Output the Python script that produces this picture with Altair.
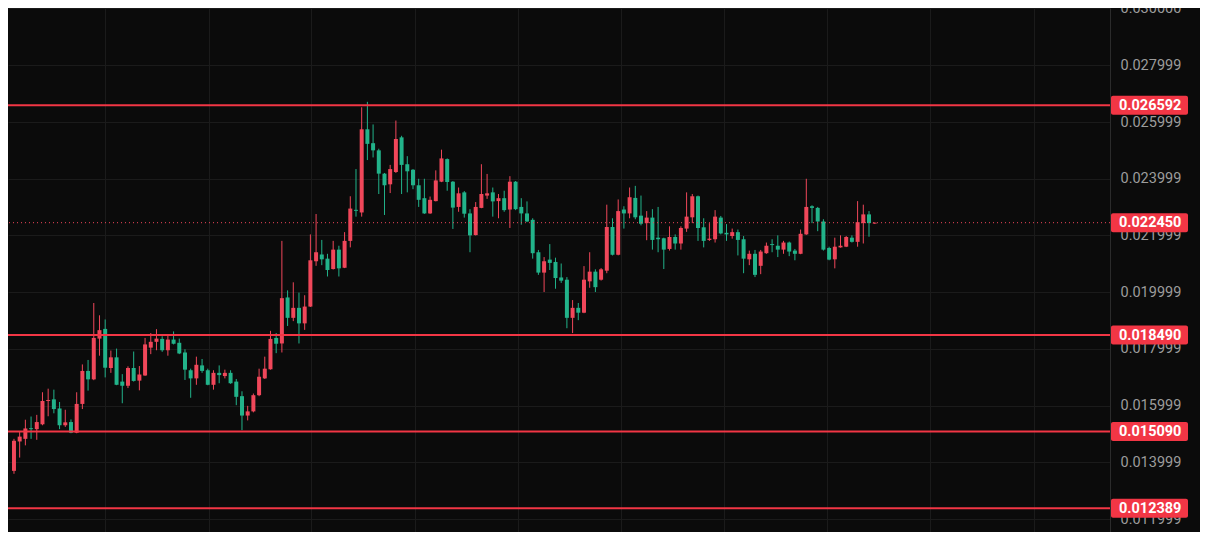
import altair as alt
import pandas as pd

# ---- candle data (price values) ----
opens = [0.013704, 0.014740, 0.014832, 0.015208, 0.015174, 0.015345, 0.016166, 0.016224, 0.015903, 0.015311,
         0.015424, 0.015048, 0.016063, 0.017226, 0.016929, 0.018365, 0.018707, 0.017329, 0.017705, 0.016850,
         0.016703, 0.017329, 0.016884, 0.017065, 0.018047, 0.018252, 0.018355, 0.017955, 0.018331, 0.018218,
         0.017876, 0.017250, 0.016963, 0.017421, 0.017250, 0.016737, 0.017158, 0.017045, 0.017158, 0.016850,
         0.016337, 0.015653, 0.015800, 0.016371, 0.016963, 0.017284, 0.018389, 0.018194, 0.019815, 0.019097,
         0.019449, 0.018902, 0.019494, 0.021091, 0.021330, 0.021183, 0.020817, 0.021501, 0.020862, 0.021809,
         0.022903, 0.022811, 0.025742, 0.025253, 0.025000, 0.024179, 0.023803, 0.024237, 0.025458, 0.024511,
         0.024316, 0.023769, 0.023314, 0.022777, 0.023211, 0.023895, 0.024692, 0.023895, 0.023006, 0.023519,
         0.022777, 0.022014, 0.022972, 0.023406, 0.023519, 0.023211, 0.023314, 0.022914, 0.023895, 0.023006,
         0.022777, 0.022551, 0.021409, 0.020691, 0.021149, 0.021067, 0.020520, 0.020441, 0.019097, 0.019449,
         0.019278, 0.020383, 0.020725, 0.020441, 0.020759, 0.022298, 0.021320, 0.022914, 0.022777, 0.023324,
         0.022698, 0.022435, 0.022630, 0.021922, 0.021901, 0.021525, 0.021946, 0.021717, 0.022243, 0.022640,
         0.023382, 0.022288, 0.021843, 0.021867, 0.022630, 0.022093, 0.021980, 0.022117, 0.021867, 0.021159,
         0.021354, 0.020930, 0.021375, 0.021696, 0.021638, 0.021501, 0.021751, 0.021467, 0.021354, 0.022038,
         0.023030, 0.022972, 0.022493, 0.021559, 0.021159, 0.021580, 0.021604, 0.021922, 0.021775, 0.022435,
         0.022743, 0.022420]
highs = [0.014832, 0.015082, 0.015506, 0.015619, 0.015677, 0.016474, 0.016600, 0.016566, 0.016132, 0.015858,
         0.015516, 0.016474, 0.017455, 0.017613, 0.019620, 0.019186, 0.019039, 0.017944, 0.018013, 0.017113,
         0.017387, 0.017910, 0.017397, 0.018389, 0.018560, 0.018697, 0.018447, 0.018457, 0.018618, 0.018365,
         0.017989, 0.017305, 0.017729, 0.017647, 0.017305, 0.017250, 0.017421, 0.017271, 0.017250, 0.016942,
         0.016508, 0.015995, 0.016429, 0.017305, 0.017729, 0.018639, 0.018560, 0.021809, 0.020065, 0.020349,
         0.019986, 0.019894, 0.022038, 0.022756, 0.021843, 0.021354, 0.021809, 0.021638, 0.022117, 0.023382,
         0.024340, 0.026518, 0.026710, 0.025913, 0.025058, 0.024203, 0.024487, 0.026050, 0.025513, 0.024795,
         0.024340, 0.023998, 0.023998, 0.023372, 0.024295, 0.025024, 0.024716, 0.023919, 0.023690, 0.023564,
         0.022927, 0.023177, 0.024511, 0.024169, 0.023690, 0.023461, 0.023577, 0.024090, 0.023919, 0.023314,
         0.023201, 0.022606, 0.021490, 0.021238, 0.021696, 0.021217, 0.021012, 0.020533, 0.019723, 0.019620,
         0.020920, 0.021409, 0.020807, 0.020850, 0.023085, 0.022606, 0.023269, 0.023030, 0.023690, 0.023748,
         0.023406, 0.022859, 0.022927, 0.023006, 0.021922, 0.022322, 0.022038, 0.022322, 0.023519, 0.023461,
         0.023406, 0.022606, 0.022435, 0.022893, 0.022688, 0.022401, 0.022243, 0.022209, 0.021980, 0.021467,
         0.021490, 0.021490, 0.021751, 0.021867, 0.022004, 0.021809, 0.021785, 0.021525, 0.022209, 0.023998,
         0.023064, 0.023006, 0.022572, 0.021604, 0.021922, 0.022004, 0.021980, 0.022004, 0.023211, 0.023085,
         0.022859, 0.022460]
lows = [0.013601, 0.014172, 0.014603, 0.014832, 0.014798, 0.015311, 0.015629, 0.015732, 0.015174, 0.015253,
        0.015030, 0.015030, 0.015882, 0.016532, 0.016900, 0.017763, 0.016997, 0.017158, 0.016724, 0.016087,
        0.016621, 0.016850, 0.016542, 0.017050, 0.017818, 0.017955, 0.017900, 0.017763, 0.018160, 0.017818,
        0.016908, 0.016279, 0.016737, 0.017158, 0.016720, 0.016566, 0.016792, 0.016963, 0.016771, 0.016019,
        0.015140, 0.015482, 0.015766, 0.016337, 0.016942, 0.017270, 0.017852, 0.017876, 0.018810, 0.018981,
        0.018194, 0.018673, 0.019480, 0.020930, 0.020954, 0.020554, 0.020800, 0.020554, 0.020850, 0.021580,
        0.022664, 0.022664, 0.024658, 0.024750, 0.023461, 0.022722, 0.023495, 0.024203, 0.023461, 0.023519,
        0.023632, 0.023006, 0.022760, 0.022760, 0.023200, 0.023880, 0.023577, 0.022230, 0.022835, 0.022630,
        0.021409, 0.022000, 0.022960, 0.023290, 0.022664, 0.022606, 0.022835, 0.022264, 0.022893, 0.022380,
        0.022470, 0.021183, 0.020612, 0.020007, 0.020783, 0.020123, 0.020328, 0.018731, 0.018560, 0.019015,
        0.019260, 0.020157, 0.020007, 0.020410, 0.020670, 0.021296, 0.021300, 0.022243, 0.022606, 0.022572,
        0.022356, 0.021833, 0.021501, 0.021409, 0.020817, 0.021467, 0.021501, 0.021501, 0.022127, 0.022435,
        0.021809, 0.021580, 0.021809, 0.021751, 0.022038, 0.021809, 0.021888, 0.021296, 0.020670, 0.020954,
        0.020533, 0.020636, 0.021354, 0.021409, 0.021238, 0.021354, 0.021272, 0.021125, 0.021340, 0.022020,
        0.022435, 0.022151, 0.021467, 0.021125, 0.020841, 0.021570, 0.021590, 0.021751, 0.021604, 0.021717,
        0.021956, 0.022410]
closes = [0.014764, 0.014911, 0.015198, 0.015174, 0.015424, 0.016166, 0.016200, 0.015882, 0.015311, 0.015414,
          0.015048, 0.016063, 0.017226, 0.016929, 0.018389, 0.018663, 0.017339, 0.017705, 0.016737, 0.016703,
          0.017329, 0.016874, 0.017100, 0.018160, 0.018252, 0.018365, 0.017955, 0.018331, 0.018184, 0.017842,
          0.017271, 0.016963, 0.017442, 0.017226, 0.016737, 0.017158, 0.017079, 0.017158, 0.016792, 0.016313,
          0.015653, 0.015800, 0.016371, 0.017021, 0.017305, 0.018355, 0.018184, 0.019791, 0.019097, 0.019449,
          0.018902, 0.019494, 0.021125, 0.021409, 0.021159, 0.020783, 0.021501, 0.020841, 0.021809, 0.022948,
          0.022869, 0.025742, 0.025229, 0.025000, 0.024179, 0.023769, 0.024340, 0.025400, 0.024487, 0.024261,
          0.023769, 0.023256, 0.022777, 0.023256, 0.023940, 0.024716, 0.023885, 0.022982, 0.023485, 0.022767,
          0.022004, 0.023006, 0.023461, 0.023485, 0.023201, 0.023314, 0.022893, 0.023895, 0.022927, 0.022777,
          0.022493, 0.021375, 0.020691, 0.021091, 0.021033, 0.020499, 0.020407, 0.019097, 0.019449, 0.019278,
          0.020441, 0.020725, 0.020178, 0.020807, 0.022298, 0.021320, 0.022859, 0.022777, 0.023348, 0.022640,
          0.022414, 0.022630, 0.021843, 0.021867, 0.021501, 0.021946, 0.021717, 0.022264, 0.022664, 0.023382,
          0.022264, 0.021809, 0.021888, 0.022664, 0.022072, 0.022038, 0.022117, 0.021843, 0.021183, 0.021354,
          0.020612, 0.021433, 0.021638, 0.021662, 0.021501, 0.021751, 0.021433, 0.021354, 0.022059, 0.023006,
          0.022972, 0.022493, 0.021501, 0.021149, 0.021604, 0.021638, 0.021946, 0.021775, 0.022469, 0.022743,
          0.022435, 0.022450]

levels = [0.026592, 0.018490, 0.015090, 0.012389]
last_price = [0.022450]
tick_values = [0.011999, 0.013999, 0.015999, 0.017999, 0.019999, 0.021999,
               0.023999, 0.025999, 0.027999, 0.030000]
grid_x = [15.95, 34.13, 52.14, 70.33, 88.34, 106.5, 124.5, 142.7, 160.7, 178.9]

# ---- styling ----
W, H, AXIS_W = 1102, 524, 90
BG = "#0b0b0b"
GRID = "#1b1b1b"
LINE_RED = "#f23645"
UP = "#f0475a"
DOWN = "#22b38a"
BOX_HALF = 0.000335
FS = 14.5

df = pd.DataFrame({"i": list(range(len(opens))), "o": opens, "h": highs, "l": lows, "c": closes})
df["dir"] = ["up" if c >= o else "down" for o, c in zip(opens, closes)]

lev_df = pd.DataFrame({"v": levels})
last_df = pd.DataFrame({"v": last_price})
lab_df = pd.DataFrame({"v": levels + last_price})

xs = alt.Scale(domain=[-0.17, 191.4], nice=False, zero=False)
ys = alt.Scale(domain=[0.011549, 0.030017], nice=False, zero=False)

x_axis = alt.Axis(values=grid_x, grid=True, gridColor=GRID, gridWidth=1, labels=False,
                  ticks=False, domain=False, title=None)
y_axis = alt.Axis(orient="right", values=tick_values, labelExpr="format(datum.value, '.6f')",
                  grid=True, gridColor=GRID, gridWidth=1, ticks=False, domain=True,
                  domainColor="#2b2b2b", labelColor="#9c9c9c", labelFontSize=FS,
                  labelFont="Roboto", labelPadding=10, labelFlush=False, labelOverlap=False,
                  title=None)

color = alt.Color("dir:N", scale=alt.Scale(domain=["up", "down"], range=[UP, DOWN]), legend=None)

base = alt.Chart(df)
wicks = base.mark_rule(strokeWidth=1).encode(
    x=alt.X("i:Q", scale=xs, axis=x_axis),
    y=alt.Y("l:Q", scale=ys, axis=y_axis),
    y2="h:Q",
    color=color,
)
bodies = base.mark_bar(size=4).encode(
    x=alt.X("i:Q", scale=xs, axis=x_axis),
    y=alt.Y("o:Q", scale=ys, axis=y_axis),
    y2="c:Q",
    color=color,
)

level_lines = alt.Chart(lev_df).mark_rule(strokeWidth=2, color=LINE_RED).encode(
    y=alt.Y("v:Q", scale=ys, axis=y_axis)
)
last_line = alt.Chart(last_df).mark_rule(strokeWidth=1, color=UP, strokeDash=[1, 3]).encode(
    y=alt.Y("v:Q", scale=ys, axis=y_axis)
)

boxes = alt.Chart(lab_df).transform_calculate(
    top=f"datum.v + {BOX_HALF}", bot=f"datum.v - {BOX_HALF}"
).mark_rect(color=LINE_RED, cornerRadius=2).encode(
    x=alt.value(W + 1),
    x2=alt.value(W + 78),
    y=alt.Y("top:Q", scale=ys, axis=y_axis),
    y2="bot:Q",
)
box_text = alt.Chart(lab_df).mark_text(
    align="left", baseline="middle", color="white", fontWeight="bold",
    fontSize=FS, font="Roboto", dy=0.5
).encode(
    x=alt.value(W + 9),
    y=alt.Y("v:Q", scale=ys, axis=y_axis),
    text=alt.Text("v:Q", format=".6f"),
)

chart = alt.layer(wicks, bodies, level_lines, last_line, boxes, box_text).properties(
    width=W, height=H,
    autosize=alt.AutoSizeParams(type="none"),
    padding={"left": 0, "top": 0, "right": AXIS_W, "bottom": 0},
    background=BG,
).configure_view(stroke=None)

chart.save("out.html", embed_options={"renderer": "svg", "actions": False})
